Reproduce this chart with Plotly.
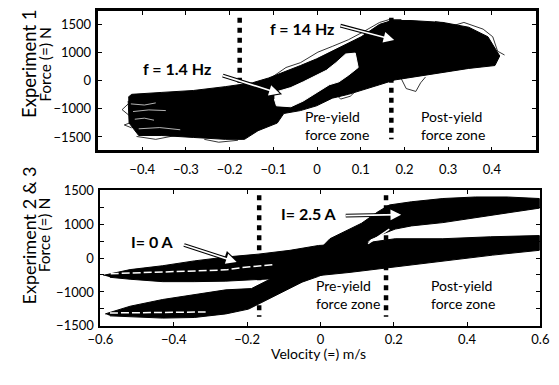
import plotly.graph_objects as go

# ---------------- Experiment 1: force / velocity envelope ----------------
# outer envelope of all recorded loops (velocity m/s, force position)
exp1_band_v = [-0.432, -0.424, -0.355, -0.283, -0.210, -0.148, -0.111, -0.076, -0.038, -0.001,
               0.035, 0.072, 0.101, 0.143, 0.171, 0.215, 0.288, 0.347, 0.391, 0.418,
               0.407, 0.347, 0.275, 0.215, 0.178, 0.143, 0.110, 0.072, 0.035, -0.001,
               -0.038, -0.076, -0.091, -0.135, -0.166, -0.210, -0.283, -0.355, -0.408, -0.430, -0.432]
exp1_band_f = [-441, -365, -314, -263, -161, -59, 69, 222, 401, 579,
               783, 987, 1166, 1497, 1599, 1599, 1548, 1421, 1166, 656,
               401, 324, 196, 94, 18, -110, -237, -365, -467, -671,
               -798, -875, -1130, -1334, -1564, -1564, -1513, -1462, -1462, -1130, -543]

# open interior of the low-frequency loops
exp1_hole_v = [-0.0976, -0.0888, -0.060, -0.0315, -0.0007, 0.0214, 0.0434, 0.0654, 0.0874,
               0.0941, 0.072, 0.050, 0.028, -0.0007, -0.0315, -0.060, -0.093, -0.0976]
exp1_hole_f = [-314, -288, -186, -33, 145, 273, 477, 707, 732,
               349, 145, -33, -110, -314, -543, -696, -671, -492]

# loose loop strands around the envelope
exp1_strand_v = [0.039, 0.054, 0.076, 0.090, None,
                 0.193, 0.204, 0.226, 0.237, 0.248, None,
                 -0.432, -0.446, -0.430, -0.391, None,
                 -0.424, -0.441, -0.417, None,
                 -0.413, -0.369, -0.324, None,
                 -0.109, -0.071, -0.038, 0.002, 0.035, 0.072, 0.105, 0.143, 0.165, 0.193, None,
                 0.270, 0.314, 0.336, 0.380, 0.402, 0.413, 0.429, None,
                 -0.258, -0.225, -0.181]
exp1_strand_f = [-314, -492, -416, -263, None,
                 43, -212, -288, -59, 94, None,
                 -620, -773, -926, -875, None,
                 -1258, -1181, -1079, None,
                 -1487, -1564, -1462, None,
                 43, 349, 477, 758, 911, 1089, 1293, 1548, 1625, 1625, None,
                 1574, 1472, 1548, 1370, 1166, 783, 681, None,
                 -1564, -1640, -1589]

# gaps between loops at the negative-velocity end
exp1_gap_v = [-0.426, -0.395, -0.369, None, -0.421, -0.385, -0.346, None,
              -0.417, -0.395, -0.373, None, -0.408, -0.360, -0.313]
exp1_gap_f = [-620, -650, -594, None, -824, -780, -798, None,
              -1028, -1000, -1054, None, -1283, -1250, -1309]

exp1_yield_v = [-0.177, 0.170]
exp1_yield_f = [1676, -1560]

# ---------------- Experiments 2 & 3: two coil currents ----------------
i0_band_v = [-0.592, -0.519, -0.430, -0.344, -0.258, -0.170, -0.083, -0.005, 0.130, 0.204,
             0.334, 0.464, 0.597, 0.597, 0.470, 0.339, 0.177, 0.078, -0.052, -0.188,
             -0.258, -0.344, -0.430, -0.519, -0.574]
i0_band_f = [-383, -256, -170, -64, 21, 85, 170, 277, 341, 426,
             426, 469, 496, 170, 64, -64, -213, -320, -426, -490,
             -511, -522, -522, -469, -426]

i25_band_v = [-0.587, -0.519, -0.430, -0.344, -0.258, -0.188, -0.143, -0.083, -0.005, 0.026,
              0.112, 0.157, 0.188, 0.248, 0.334, 0.423, 0.509, 0.597, 0.597, 0.509,
              0.423, 0.334, 0.248, 0.204, 0.170, 0.138, 0.112, 0.070, 0.026, -0.005,
              -0.050, -0.117, -0.188, -0.196, -0.258, -0.344, -0.430, -0.519, -0.574]
i25_band_f = [-1235, -1065, -916, -809, -703, -675, -490, -170, 170, 426,
              767, 1022, 1172, 1242, 1314, 1348, 1348, 1314, 1101, 995,
              888, 782, 709, 639, 533, 426, 234, 21, -298, -405,
              -533, -809, -1108, -1129, -1235, -1314, -1327, -1299, -1278]

# gaps between the loading / unloading branches
exp2_gap_v = [-0.572, -0.258, -0.214, -0.123, None, -0.574, -0.313]
exp2_gap_f = [-347, -262, -213, -143, None, -1214, -1193]
exp2_sliver_v = [0.130, 0.188]
exp2_sliver_f = [320, 639]

exp2_yield_v = [-0.167, 0.179]
exp2_yield_f = [1385, -1300]

# tick labels
top_x_ticks = [-0.4, -0.3, -0.2, -0.1, 0, 0.1, 0.2, 0.3, 0.4]
top_x_text = ["−0.4", "−0.3", "−0.2", "−0.1", "0", "0.1", "0.2", "0.3", "0.4"]
top_y_ticks = [-1500, -750, 0, 750, 1500]
top_y_text = ["−1500", "−1000", "0", "1000", "1500"]
bot_x_ticks = [-0.6, -0.4, -0.2, 0, 0.2, 0.4, 0.6]
bot_x_text = ["−0.6", "−0.4", "−0.2", "0", "0.2", "0.4", "0.6"]
bot_y_ticks = [-1500, -1125, -750, -375, 0, 375, 750, 1125, 1500]
bot_y_text = ["−1500", "", "−1000", "", "0", "", "1000", "", "1500"]

W, H = 559, 385
FONT = "Lato"
fig = go.Figure()


def yield_line(v, f, xa, ya):
    for xv in v:
        fig.add_trace(go.Scatter(x=[xv, xv], y=f, mode="lines", xaxis=xa, yaxis=ya,
                                 line=dict(color="black", width=4.5, dash="5px,5px"),
                                 hoverinfo="skip", showlegend=False))


# zone boundaries sit beneath the data
yield_line(exp1_yield_v, exp1_yield_f, "x", "y")
yield_line(exp2_yield_v, exp2_yield_f, "x2", "y2")

# Experiment 1
fig.add_trace(go.Scatter(x=exp1_band_v, y=exp1_band_f, mode="lines", fill="toself",
                         fillcolor="black", line=dict(color="black", width=1),
                         xaxis="x", yaxis="y", showlegend=False))
fig.add_trace(go.Scatter(x=exp1_hole_v, y=exp1_hole_f, mode="lines", fill="toself",
                         fillcolor="white", line=dict(color="white", width=1),
                         xaxis="x", yaxis="y", showlegend=False))
fig.add_trace(go.Scatter(x=exp1_strand_v, y=exp1_strand_f, mode="lines",
                         line=dict(color="black", width=0.8), connectgaps=False,
                         xaxis="x", yaxis="y", showlegend=False))
fig.add_trace(go.Scatter(x=exp1_gap_v, y=exp1_gap_f, mode="lines",
                         line=dict(color="white", width=0.7), connectgaps=False,
                         xaxis="x", yaxis="y", showlegend=False))

# Experiments 2 & 3
for v, f in ((i0_band_v, i0_band_f), (i25_band_v, i25_band_f)):
    fig.add_trace(go.Scatter(x=v, y=f, mode="lines", fill="toself", fillcolor="black",
                             line=dict(color="black", width=1),
                             xaxis="x2", yaxis="y2", showlegend=False))
fig.add_trace(go.Scatter(x=exp2_gap_v, y=exp2_gap_f, mode="lines", connectgaps=False,
                         line=dict(color="white", width=1.5, dash="8px,3px"),
                         xaxis="x2", yaxis="y2", showlegend=False))
fig.add_trace(go.Scatter(x=exp2_sliver_v, y=exp2_sliver_f, mode="lines",
                         line=dict(color="white", width=1.5),
                         xaxis="x2", yaxis="y2", showlegend=False))

axis_common = dict(showline=True, linecolor="black", mirror="ticks", ticks="inside",
                   ticklen=4, tickwidth=1, tickcolor="black", showgrid=False,
                   zeroline=False, tickfont=dict(family=FONT, size=13, color="black"))

fig.update_layout(
    width=W, height=H, margin=dict(l=0, r=0, t=0, b=0),
    paper_bgcolor="white", plot_bgcolor="white", showlegend=False,
    xaxis=dict(domain=[89 / W, 544 / W], range=[-0.5, 0.5], anchor="y",
               tickvals=top_x_ticks, ticktext=top_x_text, linewidth=2.5,
               ticklabelstandoff=5, **axis_common),
    yaxis=dict(domain=[1 - 148.5 / H, 1 - 3 / H], range=[-1856, 1856], anchor="x",
               tickvals=top_y_ticks, ticktext=top_y_text, linewidth=2.5,
               ticklabelstandoff=2, **axis_common),
    xaxis2=dict(domain=[91 / W, 549 / W], range=[-0.6, 0.6], anchor="y2",
                tickvals=bot_x_ticks, ticktext=bot_x_text, linewidth=2,
                ticklabelstandoff=0, **axis_common),
    yaxis2=dict(domain=[1 - 331.7 / H, 1 - 190 / H], range=[-1500, 1500], anchor="x2",
                tickvals=bot_y_ticks, ticktext=bot_y_text, linewidth=2,
                ticklabelstandoff=2, **axis_common),
)

ann = []


def paper_text(txt, px, py, size, angle=0):
    ann.append(dict(text=txt, x=px / W, y=1 - py / H, xref="paper", yref="paper",
                    xanchor="center", yanchor="middle", showarrow=False, textangle=angle,
                    font=dict(family=FONT, size=size, color="black")))


paper_text("Experiment 1", 16.5, 58.5, 18.5, -90)
paper_text("Force (=) N", 32.5, 59, 15.5, -90)
paper_text("Experiment 2 &amp; 3", 16.5, 237.5, 18, -90)
paper_text("Force (=) N", 32.5, 237, 15.5, -90)
paper_text("Velocity (=) m/s", 317.5, 361, 14)


def zone_text(txt, x, y, xa, ya, size):
    ann.append(dict(text=txt, x=x, y=y, xref=xa, yref=ya, xanchor="left", yanchor="middle",
                    align="left", showarrow=False,
                    font=dict(family=FONT, size=size, color="black")))


zone_text("Pre-yield<br>force zone", -0.0315, -1207, "x", "y", 14)
zone_text("Post-yield<br>force zone", 0.233, -1207, "x", "y", 14)
zone_text("Pre-yield<br>force zone", -0.017, -809, "x2", "y2", 14)
zone_text("Post-yield<br>force zone", 0.296, -809, "x2", "y2", 14)


def bold_text(txt, x, y, xa, ya):
    ann.append(dict(text="<b>" + txt + "</b>", x=x, y=y, xref=xa, yref=ya, xanchor="center",
                    yanchor="middle", showarrow=False,
                    font=dict(family=FONT, size=16, color="black")))


bold_text("f = 1.4 Hz", -0.321, 311, "x", "y")
bold_text("f = 14 Hz", -0.034, 1395, "x", "y")
bold_text("I= 0 A", -0.459, 362, "x2", "y2")
bold_text("I= 2.5 A", -0.031, 986, "x2", "y2")


def hollow_arrow(tip_x, tip_y, tail_x, tail_y, xa, ya):
    base = dict(text="", x=tip_x, y=tip_y, ax=tail_x, ay=tail_y, xref=xa, yref=ya,
                axref=xa, ayref=ya, showarrow=True, arrowhead=2)
    ann.append(dict(base, arrowcolor="black", arrowwidth=3.8, arrowsize=0.8))
    ann.append(dict(base, arrowcolor="white", arrowwidth=1.7, arrowsize=1.25, standoff=2.5))


hollow_arrow(-0.080, -365, -0.219, 145, "x", "y")
hollow_arrow(0.182, 1064, 0.050, 1472, "x", "y")
hollow_arrow(-0.222, -107, -0.376, 298, "x2", "y2")
hollow_arrow(0.227, 959, 0.065, 937, "x2", "y2")

fig.update_layout(annotations=ann)
fig.write_html("out.html")
